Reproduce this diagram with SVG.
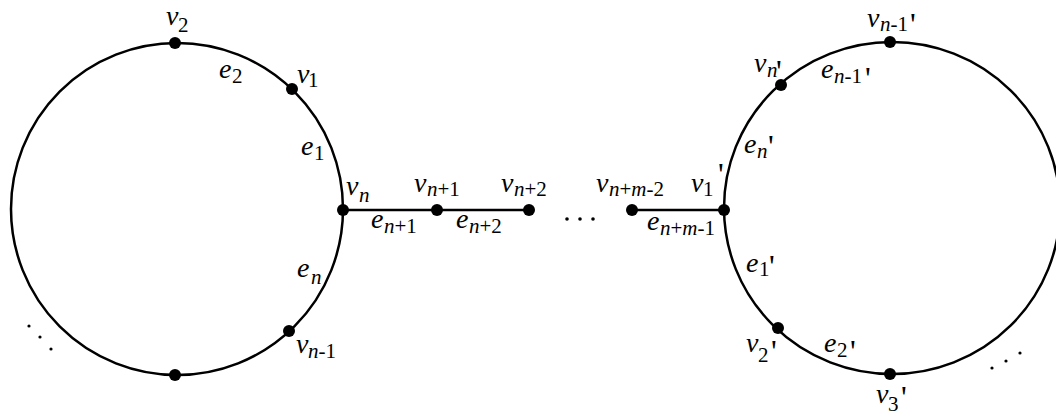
<svg xmlns="http://www.w3.org/2000/svg" width="1056" height="414" viewBox="0 0 1056 414" font-family="'Liberation Serif','Times New Roman','DejaVu Serif',serif">
<style>
.ring{fill:none;stroke:#000;stroke-width:2.5}
.edge{stroke:#000;stroke-width:2.5}
.dot{fill:#000}
.pt{fill:#000}
text{font-family:"Liberation Serif","Times New Roman","DejaVu Serif",serif;fill:#000}
.m{font-size:28px;font-style:italic}
.s{font-size:21px}
.i{font-style:italic}
.p{font-size:32px}
</style>
<rect width="1056" height="414" fill="#fff"/>
<g id="connectors">
<circle class="ring" cx="177" cy="209" r="166"/>
<ellipse class="ring" cx="892" cy="208" rx="168" ry="166"/>
<line class="edge" x1="343" y1="210" x2="529" y2="210"/>
<line class="edge" x1="632" y1="210" x2="724" y2="210"/>
</g>
<g id="ellipses">
<circle class="pt" cx="29" cy="326" r="1.6"/><circle class="pt" cx="40" cy="337" r="1.6"/><circle class="pt" cx="51" cy="349" r="1.6"/>
<circle class="pt" cx="992" cy="368" r="1.6"/><circle class="pt" cx="1006" cy="361" r="1.6"/><circle class="pt" cx="1020" cy="353" r="1.6"/>
<circle class="pt" cx="567" cy="219" r="1.8"/><circle class="pt" cx="580" cy="219" r="1.8"/><circle class="pt" cx="593" cy="219" r="1.8"/>
</g>
<g id="v2"><circle class="dot" cx="175" cy="43" r="6"/><text class="m" x="166" y="25">v</text><text class="s" x="178" y="32">2</text></g>
<g id="v1"><circle class="dot" cx="292" cy="89" r="6"/><text class="m" x="297" y="83">v</text><text class="s" x="308" y="87">1</text></g>
<g id="vn"><circle class="dot" cx="343" cy="210" r="6"/><text class="m" x="346" y="195">v</text><text class="s i" x="359" y="202">n</text></g>
<g id="vn-1"><circle class="dot" cx="289" cy="331" r="6"/><text class="m" x="296" y="353">v</text><text class="s" x="308" y="358"><tspan class="i">n</tspan>-1</text></g>
<g id="vbottom"><circle class="dot" cx="175" cy="375" r="6"/></g>
<g id="vn+1"><circle class="dot" cx="437" cy="210" r="6"/><text class="m" x="414" y="192">v</text><text class="s" x="427" y="196"><tspan class="i">n</tspan>+1</text></g>
<g id="vn+2"><circle class="dot" cx="529" cy="210" r="6"/><text class="m" x="501" y="192">v</text><text class="s" x="514" y="196"><tspan class="i">n</tspan>+2</text></g>
<g id="vn+m-2"><circle class="dot" cx="632" cy="210" r="6"/><text class="m" x="596" y="192">v</text><text class="s" x="609" y="196"><tspan class="i">n</tspan>+<tspan class="i">m</tspan>-2</text></g>
<g id="v1p"><circle class="dot" cx="724" cy="210" r="6"/><text class="m" x="691" y="192">v</text><text class="s" x="703" y="196">1</text><text class="p" x="718" y="185">'</text></g>
<g id="vn-1p"><circle class="dot" cx="890" cy="42" r="6"/><text class="m" x="867" y="27">v</text><text class="s" x="880" y="31"><tspan class="i">n</tspan>-1</text><text class="p" x="910" y="35">'</text></g>
<g id="vnp"><circle class="dot" cx="781" cy="85" r="6"/><text class="m" x="754" y="72">v</text><text class="s i" x="767" y="77">n</text><text class="p" x="776" y="82">'</text></g>
<g id="v2p"><circle class="dot" cx="778" cy="328" r="6"/><text class="m" x="746" y="352">v</text><text class="s" x="758" y="362">2</text><text class="p" x="771" y="362">'</text></g>
<g id="v3p"><circle class="dot" cx="890" cy="374" r="6"/><text class="m" x="876" y="403">v</text><text class="s" x="888" y="411">3</text><text class="p" x="901" y="408">'</text></g>
<g id="edge-labels">
<text class="m" x="219" y="78">e</text><text class="s" x="232" y="83">2</text>
<text class="m" x="301" y="155">e</text><text class="s" x="314" y="160">1</text>
<text class="m" x="297" y="277">e</text><text class="s i" x="311" y="284">n</text>
<text class="m" x="371" y="228">e</text><text class="s" x="384" y="233"><tspan class="i">n</tspan>+1</text>
<text class="m" x="456" y="228">e</text><text class="s" x="469" y="233"><tspan class="i">n</tspan>+2</text>
<text class="m" x="647" y="230">e</text><text class="s" x="660" y="235"><tspan class="i">n</tspan>+<tspan class="i">m</tspan>-1</text>
<text class="m" x="821" y="78">e</text><text class="s" x="834" y="83"><tspan class="i">n</tspan>-1</text><text class="p" x="865" y="89">'</text>
<text class="m" x="744" y="153">e</text><text class="s i" x="757" y="158">n</text><text class="p" x="768" y="157">'</text>
<text class="m" x="746" y="272">e</text><text class="s" x="759" y="276">1</text><text class="p" x="769" y="277">'</text>
<text class="m" x="824" y="352">e</text><text class="s" x="837" y="357">2</text><text class="p" x="850" y="362">'</text>
</g>
</svg>
